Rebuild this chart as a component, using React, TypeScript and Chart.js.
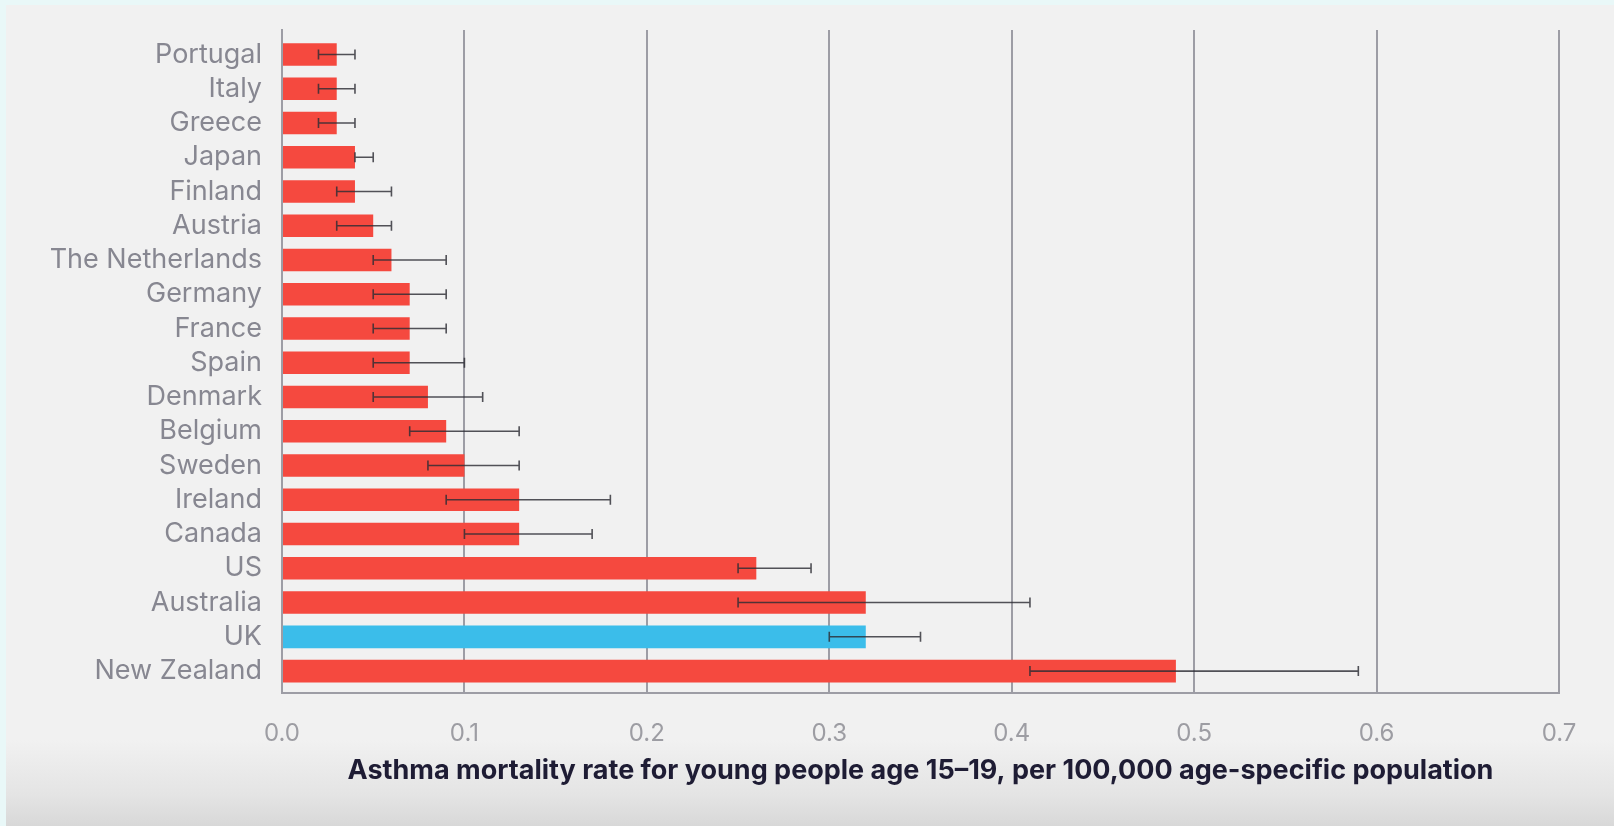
import React, { useEffect, useRef } from "react";
import { Chart, registerables } from "chart.js";

Chart.register(...registerables);

const categories = [
  "Portugal", "Italy", "Greece", "Japan", "Finland", "Austria", "The Netherlands",
  "Germany", "France", "Spain", "Denmark", "Belgium", "Sweden", "Ireland",
  "Canada", "US", "Australia", "UK", "New Zealand",
];
const rates = [0.03, 0.03, 0.03, 0.04, 0.04, 0.05, 0.06, 0.07, 0.07, 0.07, 0.08, 0.09, 0.10, 0.13, 0.13, 0.26, 0.32, 0.32, 0.49];
const lowerCI = [0.02, 0.02, 0.02, 0.04, 0.03, 0.03, 0.05, 0.05, 0.05, 0.05, 0.05, 0.07, 0.08, 0.09, 0.10, 0.25, 0.25, 0.30, 0.41];
const upperCI = [0.04, 0.04, 0.04, 0.05, 0.06, 0.06, 0.09, 0.09, 0.09, 0.10, 0.11, 0.13, 0.13, 0.18, 0.17, 0.29, 0.41, 0.35, 0.59];
const xTickValues = [0, 0.1, 0.2, 0.3, 0.4, 0.5, 0.6, 0.7];
const highlighted = "UK";
const axisTitle = "Asthma mortality rate for young people age 15\u201319, per 100,000 age-specific population";

const RED = "#f5493f";
const BLUE = "#3bbdea";
const FRAME = "#9d9da5";

const errorBars = {
  id: "errorBars",
  afterDatasetsDraw(chart: any) {
    const { ctx, scales } = chart;
    const xs = scales.x;
    const ys = scales.y;
    ctx.save();
    ctx.strokeStyle = "rgba(45,45,52,0.82)";
    ctx.lineWidth = 1.6;
    const cap = 5;
    categories.forEach((_, i) => {
      const y = ys.getPixelForValue(i);
      const x1 = xs.getPixelForValue(lowerCI[i]);
      const x2 = xs.getPixelForValue(upperCI[i]);
      ctx.beginPath();
      ctx.moveTo(x1, y);
      ctx.lineTo(x2, y);
      ctx.moveTo(x1, y - cap);
      ctx.lineTo(x1, y + cap);
      ctx.moveTo(x2, y - cap);
      ctx.lineTo(x2, y + cap);
      ctx.stroke();
    });
    ctx.restore();
  },
};

export default function App() {
  const ref = useRef<HTMLCanvasElement | null>(null);

  useEffect(() => {
    if (!ref.current) return;
    const chart = new Chart(ref.current, {
      type: "bar",
      data: {
        datasets: [
          {
            data: rates.map((v, i) => ({ x: v, y: i })) as any,
            backgroundColor: (c: any) => (categories[c.dataIndex] === highlighted ? BLUE : RED),
            borderWidth: 0,
            categoryPercentage: 1,
            barPercentage: 0.66,
          },
        ],
      },
      options: {
        indexAxis: "y",
        responsive: false,
        animation: false,
        layout: { padding: { left: 0, top: 25, right: 55, bottom: 0 } },
        plugins: { legend: { display: false }, tooltip: { enabled: false } },
        scales: {
          x: {
            type: "linear",
            min: 0,
            max: 0.7,
            afterBuildTicks: (axis: any) => {
              axis.ticks = xTickValues.map((v) => ({ value: v }));
            },
            afterFit: (axis: any) => {
              axis.height = 133;
              axis.paddingLeft = 0;
              axis.paddingRight = 0;
            },
            grid: { color: FRAME, lineWidth: 2, drawTicks: false },
            border: { display: true, color: FRAME, width: 2 },
            ticks: {
              padding: 26,
              color: "#9d9da3",
              font: { family: "Inter", size: 24 },
              callback: (v: any) => Number(v).toFixed(1),
            },
            title: {
              display: true,
              text: axisTitle,
              color: "#1e1c34",
              font: { family: "Inter", size: 27, weight: "bold" },
              padding: { top: 6, bottom: 39 },
            },
          },
          y: {
            type: "linear",
            reverse: true,
            offset: false,
            min: -0.715,
            max: 18.64,
            afterBuildTicks: (axis: any) => {
              axis.ticks = categories.map((_, i) => ({ value: i }));
            },
            afterFit: (axis: any) => {
              axis.width = 276;
              axis.paddingTop = 0;
              axis.paddingBottom = 0;
            },
            grid: { display: false, drawTicks: false, offset: false },
            border: { display: true, color: FRAME, width: 2 },
            ticks: {
              padding: 20,
              color: "#878791",
              font: { family: "Inter", size: 27 },
              callback: (v: any) => categories[v] ?? "",
            },
          },
        },
      },
      plugins: [errorBars],
    });
    return () => chart.destroy();
  }, []);

  return (
    <div style={{ position: "fixed", inset: 0, background: "#e9f8f8" }}>
      <div
        style={{
          position: "absolute",
          left: 6,
          top: 5,
          width: 1608,
          height: 821,
          background:
            "linear-gradient(to bottom, #f1f1f1 0px, #f1f1f1 735px, #e4e4e4 790px, #d8d8d8 821px)",
        }}
      >
        <canvas ref={ref} width={1608} height={821} style={{ display: "block" }} />
      </div>
    </div>
  );
}
